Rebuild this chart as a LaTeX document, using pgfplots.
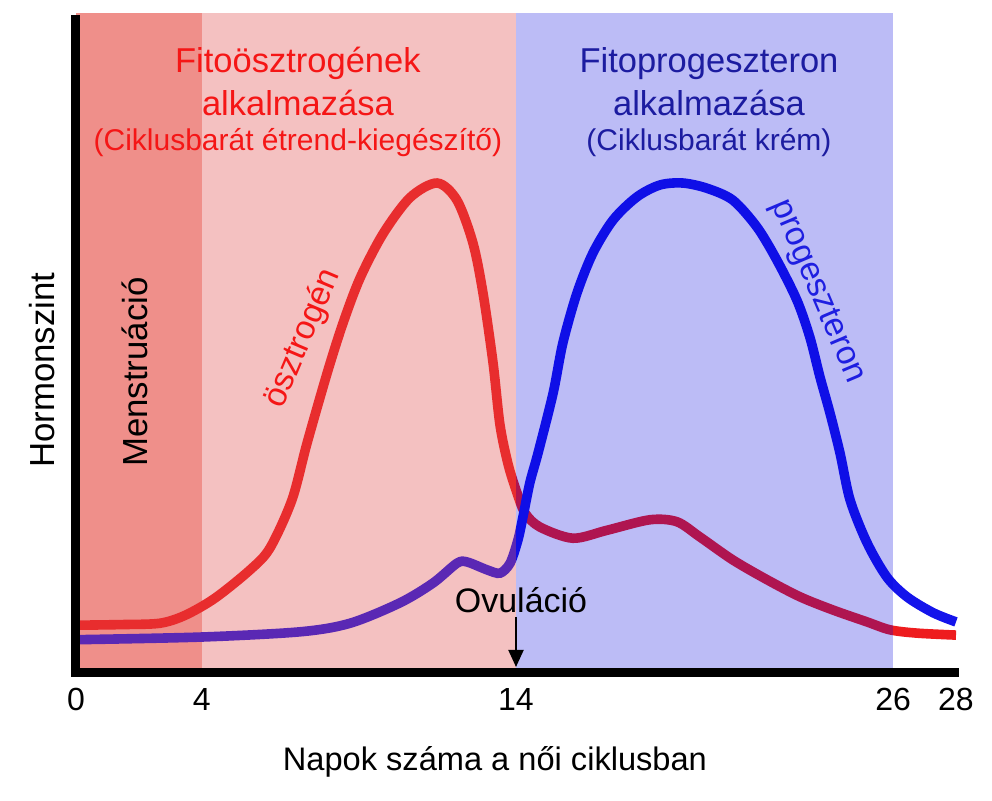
\documentclass[border=0pt]{standalone}
\usepackage{fontspec}
\setmainfont{Liberation Sans}
\usepackage{pgfplots}
\pgfplotsset{compat=1.18}
\usetikzlibrary{arrows.meta}

\definecolor{estro}{RGB}{238,28,30}
\definecolor{proge}{RGB}{20,20,235}
\definecolor{menses}{RGB}{249,178,171}
\definecolor{pinkveil}{RGB}{223,78,78}
\definecolor{blueveil}{RGB}{2,2,221}
\definecolor{titlered}{RGB}{245,22,22}
\definecolor{titleblue}{RGB}{28,28,160}
\definecolor{labelblue}{RGB}{30,30,225}

\begin{document}
\begin{tikzpicture}
\useasboundingbox (0,0) rectangle (496pt,400pt);
\begin{axis}[
  at={(38pt,64pt)}, anchor=south west,
  scale only axis, width=440pt, height=329.5pt,
  xmin=0, xmax=28, ymin=0, ymax=100,
  axis x line=bottom, axis y line=left,
  axis line style={draw=none},
  xtick={0,4,14,26,28}, xticklabels={0,4,14,26,28},
  ytick=\empty,
  major tick length=0pt,
  xticklabel style={font=\fontsize{16}{19}\selectfont, yshift=-4.5pt},
  clip=false,
]
% menstruation phase (below the curves)
\fill[menses] (axis cs:0,0) rectangle (axis cs:4,100);

% estrogen
\addplot[estro, line width=4.8pt, smooth] coordinates {
  (0,7.1) (1.5,7.2) (2.67,7.4) (3.47,8.6) (4.42,11.2) (5.54,15.5)
  (6.17,18.8) (6.87,26.1) (7.35,34.7) (8.0,45.5) (8.50,53.0) (9.04,59.8)
  (9.77,66.5) (10.63,72.0) (11.49,74.2) (12.12,71.6) (12.63,65.1)
  (12.95,57.5) (13.27,46.9) (13.49,37.5) (13.75,31.5) (14.03,27.2)
  (14.29,24.1) (14.76,22.0) (15.81,20.3) (16.89,21.5) (18.26,23.1)
  (19.12,22.8) (19.85,20.5) (20.90,17.0) (21.99,14.0) (23.04,11.4)
  (24.09,9.4) (25.17,7.6) (25.90,6.4) (26.76,5.9) (28,5.6)
};

% progesterone
\addplot[proge, line width=4.8pt, smooth] coordinates {
  (0,4.9) (3.95,5.3) (7.13,6.1) (8.72,7.4) (10.31,10.5) (11.36,13.5)
  (12.12,16.5) (12.44,16.7) (13.08,15.5) (13.49,15.0) (13.81,16.5)
  (14.06,20.0) (14.22,23.5) (14.44,28.7) (14.70,33.2) (15.18,42.3)
  (15.49,49.9) (15.94,57.5) (16.45,63.6) (17.09,68.6) (17.85,72.1)
  (18.58,73.9) (19.31,74.2) (20.08,73.4) (20.90,71.6) (21.67,67.5)
  (22.30,62.5) (22.94,56.4) (23.35,50.8) (23.67,44.8) (23.99,39.3)
  (24.31,33.2) (24.63,26.1) (25.17,19.6) (25.80,14.4) (26.44,11.4)
  (27.27,9.0) (28,7.6)
};

% translucent phase bands over the curves
\fill[pinkveil, opacity=0.35] (axis cs:0,0) rectangle (axis cs:14,100);
\fill[blueveil, opacity=0.265] (axis cs:14,0) rectangle (axis cs:26,100);

% phase titles
\node[font=\fontsize{17.25}{20}\selectfont, text=titlered, anchor=base] at (axis cs:7.06,90.9) {Fitoösztrogének};
\node[font=\fontsize{17.25}{20}\selectfont, text=titlered, anchor=base] at (axis cs:7.06,84.5) {alkalmazása};
\node[font=\fontsize{15}{18}\selectfont, text=titlered, anchor=base] at (axis cs:7.06,79.2) {(Ciklusbarát étrend-kiegészítő)};

\node[font=\fontsize{17.25}{20}\selectfont, text=titleblue, anchor=base] at (axis cs:20.14,90.9) {Fitoprogeszteron};
\node[font=\fontsize{17.25}{20}\selectfont, text=titleblue, anchor=base] at (axis cs:20.14,84.5) {alkalmazása};
\node[font=\fontsize{15}{18}\selectfont, text=titleblue, anchor=base] at (axis cs:20.14,79.2) {(Ciklusbarát krém)};

% curve labels
\node[font=\fontsize{16.8}{20}\selectfont, text=titlered, rotate=67] at (axis cs:7.22,50.6) {ösztrogén};
\node[font=\fontsize{16.8}{20}\selectfont, text=labelblue, rotate=-67] at (axis cs:23.58,57.7) {progeszteron};

\node[font=\fontsize{17.4}{20}\selectfont, rotate=90, anchor=base] at (axis cs:2.29,45.5) {Menstruáció};
\node[font=\fontsize{17.4}{20}\selectfont, rotate=90, anchor=base] at (axis cs:-0.67,45.8) {Hormonszint};

% ovulation marker
\node[font=\fontsize{17}{20}\selectfont, anchor=base] at (axis cs:14.16,9.1) {Ovuláció};
\draw[line width=1pt, -{Triangle[length=8.5pt,width=7.5pt]}] (axis cs:14,8.35) -- (axis cs:14,0.76);

% axis label
\node[font=\fontsize{16.3}{20}\selectfont, anchor=base] at (axis cs:13.33,-15.0) {Napok száma a női ciklusban};

% heavy axis lines
\draw[line width=4.5pt, line join=miter] (axis cs:0,99.7) -- (axis cs:0,0) -- (axis cs:28.1,0);
\end{axis}
\end{tikzpicture}
\end{document}
